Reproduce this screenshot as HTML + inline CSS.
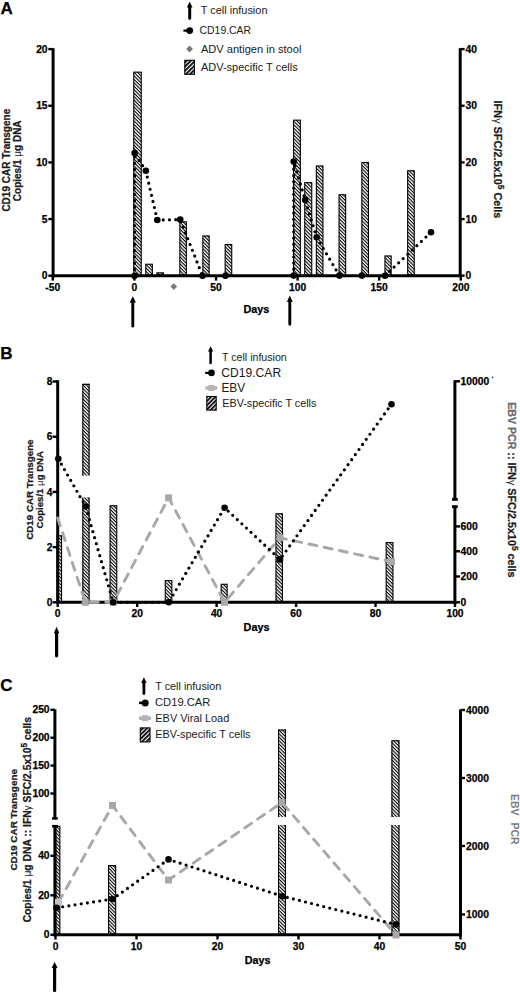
<!DOCTYPE html>
<html><head><meta charset="utf-8"><title>Figure</title><style>
html,body{margin:0;padding:0;background:#fff;width:520px;height:994px;overflow:hidden;}
svg{display:block;}
text{font-family:"Liberation Sans",sans-serif;}
</style></head><body>
<svg width="520" height="994" viewBox="0 0 520 994">
<defs>
<pattern id="hb" patternUnits="userSpaceOnUse" width="2.45" height="2.45" patternTransform="rotate(45)"><rect width="2.45" height="2.45" fill="#fff"/><rect width="2.45" height="1.08" fill="#000"/></pattern>
<pattern id="hl" patternUnits="userSpaceOnUse" width="3" height="3" patternTransform="rotate(-45)"><rect width="3" height="3" fill="#fff"/><rect width="3" height="1.8" fill="#000"/></pattern>
</defs>
<rect width="520" height="994" fill="#fff"/>
<text x="0.6" y="14.1" font-size="17" font-weight="bold" stroke="#000" stroke-width="0.25" text-anchor="start" fill="#000" >A</text>
<path d="M189.7 1.6 L192.5 7.4 L191.2 7.4 L191.2 18.3 A1.5 1.5 0 0 1 188.2 18.3 L188.2 7.4 L186.9 7.4 Z" fill="#000"/>
<text x="200.8" y="13.5" font-size="10.95" text-anchor="start" fill="#1a1a1a" >T cell infusion</text>
<line x1="183.4" y1="30.6" x2="189" y2="30.6" stroke="#000" stroke-width="2.2" />
<circle cx="189.7" cy="30.6" r="3.4" fill="#000"/>
<text x="199.6" y="33.7" font-size="10.4" text-anchor="start" fill="#1a1a1a" >CD19.CAR</text>
<path d="M189.6 45.6 L193 49 L189.6 52.4 L186.2 49 Z" fill="#7c7c7c"/>
<text x="200.9" y="53.4" font-size="11.1" text-anchor="start" fill="#1a1a1a" >ADV antigen in stool</text>
<rect x="184.8" y="60.3" width="9.6" height="14" fill="url(#hl)" stroke="#000" stroke-width="1.1"/>
<text x="200.9" y="71.2" font-size="11" text-anchor="start" fill="#1a1a1a" >ADV-specific T cells</text>
<rect x="133.75" y="72.15" width="7.5" height="203" fill="url(#hb)" stroke="#000" stroke-width="1.1"/>
<rect x="145.75" y="264.25" width="6.6" height="10.9" fill="url(#hb)" stroke="#000" stroke-width="1.1"/>
<rect x="156.85" y="272.85" width="6.6" height="2.3" fill="url(#hb)" stroke="#000" stroke-width="1.1"/>
<rect x="179.85" y="221.85" width="6.5" height="53.3" fill="url(#hb)" stroke="#000" stroke-width="1.1"/>
<rect x="202.85" y="235.95" width="6.3" height="39.2" fill="url(#hb)" stroke="#000" stroke-width="1.1"/>
<rect x="225.15" y="244.55" width="6.6" height="30.6" fill="url(#hb)" stroke="#000" stroke-width="1.1"/>
<rect x="293.55" y="120.15" width="6.8" height="155" fill="url(#hb)" stroke="#000" stroke-width="1.1"/>
<rect x="304.75" y="182.65" width="7" height="92.5" fill="url(#hb)" stroke="#000" stroke-width="1.1"/>
<rect x="316.35" y="165.95" width="6.6" height="109.2" fill="url(#hb)" stroke="#000" stroke-width="1.1"/>
<rect x="339.05" y="194.75" width="6.6" height="80.4" fill="url(#hb)" stroke="#000" stroke-width="1.1"/>
<rect x="361.85" y="162.45" width="6.6" height="112.7" fill="url(#hb)" stroke="#000" stroke-width="1.1"/>
<rect x="384.95" y="255.95" width="6.2" height="19.2" fill="url(#hb)" stroke="#000" stroke-width="1.1"/>
<rect x="407.65" y="170.75" width="6.6" height="104.4" fill="url(#hb)" stroke="#000" stroke-width="1.1"/>
<path d="M134.5 275.7 L134.6 153.1 L145.8 170.8 L157.3 220 L180.2 219.6 L202.5 275.8" fill="none" stroke="#000" stroke-width="3.2" stroke-dasharray="0 6.25" stroke-linecap="round"/>
<path d="M293.7 275.6 L293.7 161.5 L305.2 200 L316.7 237.3 L339.4 275.6" fill="none" stroke="#000" stroke-width="3.2" stroke-dasharray="0 6.25" stroke-linecap="round"/>
<path d="M385 275.7 L431 232.3" fill="none" stroke="#000" stroke-width="3.2" stroke-dasharray="0 6.25" stroke-linecap="round"/>
<line x1="53.1" y1="48.2" x2="53.1" y2="277.2" stroke="#000" stroke-width="3" />
<line x1="460.2" y1="48.2" x2="460.2" y2="277.2" stroke="#000" stroke-width="3" />
<line x1="51.6" y1="275.7" x2="461.7" y2="275.7" stroke="#000" stroke-width="3" />
<line x1="48.3" y1="275.7" x2="53.1" y2="275.7" stroke="#000" stroke-width="2.4" />
<text x="47.6" y="279.4" font-size="10.3" font-weight="bold" stroke="#000" stroke-width="0.25" text-anchor="end" fill="#000" >0</text>
<line x1="48.3" y1="219.05" x2="53.1" y2="219.05" stroke="#000" stroke-width="2.4" />
<text x="47.6" y="222.75" font-size="10.3" font-weight="bold" stroke="#000" stroke-width="0.25" text-anchor="end" fill="#000" >5</text>
<line x1="48.3" y1="162.4" x2="53.1" y2="162.4" stroke="#000" stroke-width="2.4" />
<text x="47.6" y="166.1" font-size="10.3" font-weight="bold" stroke="#000" stroke-width="0.25" text-anchor="end" fill="#000" >10</text>
<line x1="48.3" y1="105.75" x2="53.1" y2="105.75" stroke="#000" stroke-width="2.4" />
<text x="47.6" y="109.45" font-size="10.3" font-weight="bold" stroke="#000" stroke-width="0.25" text-anchor="end" fill="#000" >15</text>
<line x1="48.3" y1="49.1" x2="53.1" y2="49.1" stroke="#000" stroke-width="2.4" />
<text x="47.6" y="52.8" font-size="10.3" font-weight="bold" stroke="#000" stroke-width="0.25" text-anchor="end" fill="#000" >20</text>
<line x1="460.2" y1="275.7" x2="464.6" y2="275.7" stroke="#000" stroke-width="2.4" />
<text x="465.6" y="279.4" font-size="10.3" font-weight="bold" stroke="#000" stroke-width="0.25" text-anchor="start" fill="#000" >0</text>
<line x1="460.2" y1="219.05" x2="464.6" y2="219.05" stroke="#000" stroke-width="2.4" />
<text x="465.6" y="222.75" font-size="10.3" font-weight="bold" stroke="#000" stroke-width="0.25" text-anchor="start" fill="#000" >10</text>
<line x1="460.2" y1="162.4" x2="464.6" y2="162.4" stroke="#000" stroke-width="2.4" />
<text x="465.6" y="166.1" font-size="10.3" font-weight="bold" stroke="#000" stroke-width="0.25" text-anchor="start" fill="#000" >20</text>
<line x1="460.2" y1="105.75" x2="464.6" y2="105.75" stroke="#000" stroke-width="2.4" />
<text x="465.6" y="109.45" font-size="10.3" font-weight="bold" stroke="#000" stroke-width="0.25" text-anchor="start" fill="#000" >30</text>
<line x1="460.2" y1="49.1" x2="464.6" y2="49.1" stroke="#000" stroke-width="2.4" />
<text x="465.6" y="52.8" font-size="10.3" font-weight="bold" stroke="#000" stroke-width="0.25" text-anchor="start" fill="#000" >40</text>
<line x1="52.8" y1="275.7" x2="52.8" y2="280.6" stroke="#000" stroke-width="2.4" />
<text x="52.8" y="290.9" font-size="10.3" font-weight="bold" stroke="#000" stroke-width="0.25" text-anchor="middle" fill="#000" >-50</text>
<line x1="134.4" y1="275.7" x2="134.4" y2="280.6" stroke="#000" stroke-width="2.4" />
<text x="134.4" y="290.9" font-size="10.3" font-weight="bold" stroke="#000" stroke-width="0.25" text-anchor="middle" fill="#000" >0</text>
<line x1="216" y1="275.7" x2="216" y2="280.6" stroke="#000" stroke-width="2.4" />
<text x="216" y="290.9" font-size="10.3" font-weight="bold" stroke="#000" stroke-width="0.25" text-anchor="middle" fill="#000" >50</text>
<line x1="297.6" y1="275.7" x2="297.6" y2="280.6" stroke="#000" stroke-width="2.4" />
<text x="297.6" y="290.9" font-size="10.3" font-weight="bold" stroke="#000" stroke-width="0.25" text-anchor="middle" fill="#000" >100</text>
<line x1="379.2" y1="275.7" x2="379.2" y2="280.6" stroke="#000" stroke-width="2.4" />
<text x="379.2" y="290.9" font-size="10.3" font-weight="bold" stroke="#000" stroke-width="0.25" text-anchor="middle" fill="#000" >150</text>
<line x1="460.8" y1="275.7" x2="460.8" y2="280.6" stroke="#000" stroke-width="2.4" />
<text x="460.8" y="290.9" font-size="10.3" font-weight="bold" stroke="#000" stroke-width="0.25" text-anchor="middle" fill="#000" >200</text>
<circle cx="134.5" cy="275.7" r="3.3" fill="#000"/>
<circle cx="134.6" cy="153.1" r="3.3" fill="#000"/>
<circle cx="145.8" cy="170.8" r="3.3" fill="#000"/>
<circle cx="157.3" cy="220" r="3.3" fill="#000"/>
<circle cx="180.2" cy="219.6" r="3.3" fill="#000"/>
<circle cx="202.5" cy="275.8" r="3.3" fill="#000"/>
<circle cx="225.4" cy="275.8" r="3.3" fill="#000"/>
<circle cx="293.7" cy="275.6" r="3.3" fill="#000"/>
<circle cx="293.7" cy="161.5" r="3.3" fill="#000"/>
<circle cx="305.2" cy="200" r="3.3" fill="#000"/>
<circle cx="316.7" cy="237.3" r="3.3" fill="#000"/>
<circle cx="339.4" cy="275.6" r="3.3" fill="#000"/>
<circle cx="361.9" cy="275.6" r="3.3" fill="#000"/>
<circle cx="385" cy="275.7" r="3.3" fill="#000"/>
<circle cx="431" cy="232.3" r="3.3" fill="#000"/>
<path d="M173.8 283.2 L177.2 286.6 L173.8 290 L170.4 286.6 Z" fill="#7c7c7c"/>
<text x="243.5" y="312.7" font-size="10.8" font-weight="bold" stroke="#000" stroke-width="0.25" text-anchor="start" fill="#000" >Days</text>
<path d="M132.8 296.2 L135.9 302.6 L134.25 302.6 L134.25 326.15 A1.45 1.45 0 0 1 131.35 326.15 L131.35 302.6 L129.7 302.6 Z" fill="#000"/>
<path d="M289.8 295.4 L292.7 301.9 L291.25 301.9 L291.25 324.35 A1.45 1.45 0 0 1 288.35 324.35 L288.35 301.9 L286.9 301.9 Z" fill="#000"/>
<text transform="translate(9.5 160.2) rotate(-90)" x="0" y="0" font-size="10" font-weight="bold" stroke="#1a1a1a" stroke-width="0.25" text-anchor="middle" fill="#1a1a1a">CD19 CAR Transgene</text>
<text transform="translate(20.8 160.8) rotate(-90)" x="0" y="0" font-size="10" font-weight="bold" stroke="#1a1a1a" stroke-width="0.25" text-anchor="middle" fill="#1a1a1a">Copies/1 <tspan font-weight="normal" stroke="none">μ</tspan>g DNA</text>
<text transform="translate(494.4 159.5) rotate(90)" x="0" y="0" font-size="10.9" font-weight="bold" stroke="#1a1a1a" stroke-width="0.25" text-anchor="middle" fill="#1a1a1a">IFN<tspan font-weight="normal" stroke="none">γ</tspan> SFC/2.5x10<tspan dy="-4" font-size="8.3">5</tspan><tspan dy="4"> Cells</tspan></text>
<text x="0.2" y="358.9" font-size="17" font-weight="bold" stroke="#000" stroke-width="0.25" text-anchor="start" fill="#000" >B</text>
<path d="M210.6 346.3 L213.2 351.5 L211.85 351.5 L211.85 362.95 A1.25 1.25 0 0 1 209.35 362.95 L209.35 351.5 L208 351.5 Z" fill="#000"/>
<text x="222.1" y="361.4" font-size="10.6" text-anchor="start" fill="#1a1a1a" >T cell infusion</text>
<line x1="205.2" y1="372.9" x2="211" y2="372.9" stroke="#000" stroke-width="2.2" />
<circle cx="211.5" cy="372.9" r="3.3" fill="#000"/>
<text x="221.3" y="377" font-size="12.1" text-anchor="start" fill="#1a1a1a" >CD19.CAR</text>
<line x1="205.5" y1="388" x2="217.3" y2="388" stroke="#b4b4b4" stroke-width="3.6" />
<rect x="208.4" y="385" width="6" height="6" fill="#b4b4b4" />
<text x="221.4" y="392" font-size="11.9" text-anchor="start" fill="#1a1a1a" >EBV</text>
<rect x="206.8" y="396.5" width="9.4" height="13.6" fill="url(#hl)" stroke="#000" stroke-width="1.1"/>
<text x="222.3" y="407.2" font-size="10.75" text-anchor="start" fill="#1a1a1a" >EBV-specific T cells</text>
<rect x="82.3" y="497.4" width="7.3" height="104.9" fill="url(#hb)"/>
<path d="M82.85 601.75 L82.85 497.4 M89.05 497.4 L89.05 601.75 L82.85 601.75" fill="none" stroke="#000" stroke-width="1.1"/>
<rect x="57.15" y="535.75" width="4.4" height="66" fill="url(#hb)" stroke="#000" stroke-width="1.1"/>
<rect x="110.05" y="505.75" width="6.7" height="96" fill="url(#hb)" stroke="#000" stroke-width="1.1"/>
<rect x="165.25" y="580.55" width="6.6" height="21.2" fill="url(#hb)" stroke="#000" stroke-width="1.1"/>
<rect x="221.15" y="584.25" width="6" height="17.5" fill="url(#hb)" stroke="#000" stroke-width="1.1"/>
<rect x="275.95" y="513.75" width="6.5" height="88" fill="url(#hb)" stroke="#000" stroke-width="1.1"/>
<rect x="386.15" y="542.55" width="6.8" height="59.2" fill="url(#hb)" stroke="#000" stroke-width="1.1"/>
<rect x="82.3" y="383.8" width="7.3" height="91.8" fill="url(#hb)"/>
<path d="M82.85 475.6 L82.85 384.35 L89.05 384.35 L89.05 475.6" fill="none" stroke="#000" stroke-width="1.1"/>
<line x1="57.7" y1="380.3" x2="57.7" y2="603.8" stroke="#000" stroke-width="3" />
<line x1="56.2" y1="602.3" x2="456.4" y2="602.3" stroke="#000" stroke-width="3" />
<line x1="52.6" y1="602.3" x2="57.7" y2="602.3" stroke="#000" stroke-width="2.4" />
<text x="52.4" y="606" font-size="10.2" font-weight="bold" stroke="#000" stroke-width="0.25" text-anchor="end" fill="#000" >0</text>
<line x1="52.6" y1="547.1" x2="57.7" y2="547.1" stroke="#000" stroke-width="2.4" />
<text x="52.4" y="550.8" font-size="10.2" font-weight="bold" stroke="#000" stroke-width="0.25" text-anchor="end" fill="#000" >2</text>
<line x1="52.6" y1="491.9" x2="57.7" y2="491.9" stroke="#000" stroke-width="2.4" />
<text x="52.4" y="495.6" font-size="10.2" font-weight="bold" stroke="#000" stroke-width="0.25" text-anchor="end" fill="#000" >4</text>
<line x1="52.6" y1="436.7" x2="57.7" y2="436.7" stroke="#000" stroke-width="2.4" />
<text x="52.4" y="440.4" font-size="10.2" font-weight="bold" stroke="#000" stroke-width="0.25" text-anchor="end" fill="#000" >6</text>
<line x1="52.6" y1="381.5" x2="57.7" y2="381.5" stroke="#000" stroke-width="2.4" />
<text x="52.4" y="385.2" font-size="10.2" font-weight="bold" stroke="#000" stroke-width="0.25" text-anchor="end" fill="#000" >8</text>
<line x1="57.7" y1="602.3" x2="57.7" y2="607" stroke="#000" stroke-width="2.4" />
<text x="57.7" y="616.9" font-size="10.3" font-weight="bold" stroke="#000" stroke-width="0.25" text-anchor="middle" fill="#000" >0</text>
<line x1="137.16" y1="602.3" x2="137.16" y2="607" stroke="#000" stroke-width="2.4" />
<text x="137.16" y="616.9" font-size="10.3" font-weight="bold" stroke="#000" stroke-width="0.25" text-anchor="middle" fill="#000" >20</text>
<line x1="216.62" y1="602.3" x2="216.62" y2="607" stroke="#000" stroke-width="2.4" />
<text x="216.62" y="616.9" font-size="10.3" font-weight="bold" stroke="#000" stroke-width="0.25" text-anchor="middle" fill="#000" >40</text>
<line x1="296.08" y1="602.3" x2="296.08" y2="607" stroke="#000" stroke-width="2.4" />
<text x="296.08" y="616.9" font-size="10.3" font-weight="bold" stroke="#000" stroke-width="0.25" text-anchor="middle" fill="#000" >60</text>
<line x1="375.54" y1="602.3" x2="375.54" y2="607" stroke="#000" stroke-width="2.4" />
<text x="375.54" y="616.9" font-size="10.3" font-weight="bold" stroke="#000" stroke-width="0.25" text-anchor="middle" fill="#000" >80</text>
<line x1="455" y1="602.3" x2="455" y2="607" stroke="#000" stroke-width="2.4" />
<text x="455" y="616.9" font-size="10.3" font-weight="bold" stroke="#000" stroke-width="0.25" text-anchor="middle" fill="#000" >100</text>
<line x1="454.9" y1="380.3" x2="454.9" y2="500" stroke="#000" stroke-width="3" />
<rect x="452" y="497.9" width="5.8" height="2.9" fill="#000" />
<line x1="454.9" y1="506" x2="454.9" y2="603.8" stroke="#000" stroke-width="3" />
<rect x="452" y="505.2" width="5.8" height="2.9" fill="#000" />
<line x1="454.9" y1="381.3" x2="460" y2="381.3" stroke="#000" stroke-width="2.4" />
<text x="460.6" y="384.9" font-size="10.3" font-weight="bold" stroke="#000" stroke-width="0.25" text-anchor="start" fill="#000" >10000</text>
<line x1="454.9" y1="526.4" x2="460" y2="526.4" stroke="#000" stroke-width="2.4" />
<text x="460.6" y="530" font-size="10.3" font-weight="bold" stroke="#000" stroke-width="0.25" text-anchor="start" fill="#000" >600</text>
<line x1="454.9" y1="551.3" x2="460" y2="551.3" stroke="#000" stroke-width="2.4" />
<text x="460.6" y="554.9" font-size="10.3" font-weight="bold" stroke="#000" stroke-width="0.25" text-anchor="start" fill="#000" >400</text>
<line x1="454.9" y1="576.5" x2="460" y2="576.5" stroke="#000" stroke-width="2.4" />
<text x="460.6" y="580.1" font-size="10.3" font-weight="bold" stroke="#000" stroke-width="0.25" text-anchor="start" fill="#000" >200</text>
<line x1="454.9" y1="602.3" x2="460" y2="602.3" stroke="#000" stroke-width="2.4" />
<text x="460.6" y="605.9" font-size="10.3" font-weight="bold" stroke="#000" stroke-width="0.25" text-anchor="start" fill="#000" >0</text>
<circle cx="492.6" cy="377.4" r="0.8" fill="#333"/>
<path d="M57.7 518 L85.3 602.3 L113.2 602.3 L168.6 497.8 L224.6 602.3 L280 537.8 L391.5 561.7" fill="none" stroke="#a8a8a8" stroke-width="2.9" stroke-dasharray="8.1 7.5" stroke-linecap="round" stroke-linejoin="round"/>
<path d="M58.3 458.7 L85.6 506.5 L113.2 602.3 L168.7 602.3 L224.6 507.7 L280 559.4 L391.5 404.2" fill="none" stroke="#000" stroke-width="3.2" stroke-dasharray="0 6.25" stroke-linecap="round"/>
<rect x="81.8" y="598.8" width="7" height="7" fill="#a8a8a8" />
<rect x="109.7" y="598.8" width="7" height="7" fill="#a8a8a8" />
<rect x="165.1" y="494.3" width="7" height="7" fill="#a8a8a8" />
<rect x="221.1" y="598.8" width="7" height="7" fill="#a8a8a8" />
<rect x="276.5" y="534.3" width="7" height="7" fill="#a8a8a8" />
<rect x="388" y="558.2" width="7" height="7" fill="#a8a8a8" />
<circle cx="58.3" cy="458.7" r="3.3" fill="#000"/>
<circle cx="85.6" cy="506.5" r="3.3" fill="#000"/>
<circle cx="113.2" cy="602.3" r="3.3" fill="#000"/>
<circle cx="168.7" cy="602.3" r="3.3" fill="#000"/>
<circle cx="224.6" cy="507.7" r="3.3" fill="#000"/>
<circle cx="280" cy="559.4" r="3.3" fill="#000"/>
<circle cx="391.5" cy="404.2" r="3.3" fill="#000"/>
<text x="243.6" y="630.9" font-size="10.8" font-weight="bold" stroke="#000" stroke-width="0.25" text-anchor="start" fill="#000" >Days</text>
<path d="M56.6 626.8 L59.4 633.3 L58.2 633.3 L58.2 655.8 A1.6 1.6 0 0 1 55 655.8 L55 633.3 L53.8 633.3 Z" fill="#000"/>
<text transform="translate(32.5 489.6) rotate(-90)" x="0" y="0" font-size="9.75" font-weight="bold" stroke="#1a1a1a" stroke-width="0.25" text-anchor="middle" fill="#1a1a1a">CD19 CAR Transgene</text>
<text transform="translate(42.9 489.8) rotate(-90)" x="0" y="0" font-size="9.6" font-weight="bold" stroke="#1a1a1a" stroke-width="0.25" text-anchor="middle" fill="#1a1a1a">Copies/1 <tspan font-weight="normal" stroke="none">μ</tspan>g DNA</text>
<text transform="translate(507.8 402.2) rotate(90)" x="0" y="0" font-size="10.8" font-weight="bold" stroke="#1a1a1a" stroke-width="0.25" text-anchor="start" fill="#1a1a1a"><tspan fill="#6a6a6a" stroke="#6a6a6a" font-size="10.6">EBV PCR</tspan> :: IFN<tspan font-weight="normal" stroke="none">γ</tspan> SFC/2.5x10<tspan dy="-4" font-size="8.3">5</tspan><tspan dy="4"> cells</tspan></text>
<text x="0.3" y="690.7" font-size="17" font-weight="bold" stroke="#000" stroke-width="0.25" text-anchor="start" fill="#000" >C</text>
<path d="M143.9 677.2 L146.6 683 L145.3 683 L145.3 693.6 A1.4 1.4 0 0 1 142.5 693.6 L142.5 683 L141.2 683 Z" fill="#000"/>
<text x="155.2" y="689.5" font-size="10.85" text-anchor="start" fill="#1a1a1a" >T cell infusion</text>
<line x1="139" y1="702.9" x2="145" y2="702.9" stroke="#000" stroke-width="2.5" />
<circle cx="145.2" cy="702.9" r="3.5" fill="#000"/>
<text x="155" y="706.4" font-size="11.2" text-anchor="start" fill="#1a1a1a" >CD19.CAR</text>
<line x1="139" y1="718.2" x2="151" y2="718.2" stroke="#b4b4b4" stroke-width="3.6" />
<rect x="142" y="715.2" width="6" height="6" fill="#b4b4b4" />
<text x="155.3" y="721.6" font-size="10.95" text-anchor="start" fill="#1a1a1a" >EBV Viral Load</text>
<rect x="140.3" y="727.9" width="9.7" height="14" fill="url(#hl)" stroke="#000" stroke-width="1.1"/>
<text x="155.3" y="738.3" font-size="10.9" text-anchor="start" fill="#1a1a1a" >EBV-specific T cells</text>
<rect x="55.75" y="826.25" width="4.1" height="108" fill="url(#hb)" stroke="#000" stroke-width="1.1"/>
<rect x="108.55" y="865.55" width="7.1" height="68.7" fill="url(#hb)" stroke="#000" stroke-width="1.1"/>
<rect x="278" y="729.4" width="8" height="87.6" fill="url(#hb)"/>
<path d="M278.55 817 L278.55 729.95 L285.45 729.95 L285.45 817" fill="none" stroke="#000" stroke-width="1.1"/>
<rect x="278" y="825" width="8" height="109.8" fill="url(#hb)"/>
<path d="M278.55 934.25 L278.55 825 M285.45 825 L285.45 934.25 L278.55 934.25" fill="none" stroke="#000" stroke-width="1.1"/>
<rect x="391.4" y="740.2" width="8.1" height="76.8" fill="url(#hb)"/>
<path d="M391.95 817 L391.95 740.75 L398.95 740.75 L398.95 817" fill="none" stroke="#000" stroke-width="1.1"/>
<rect x="391.4" y="825" width="8.1" height="109.8" fill="url(#hb)"/>
<path d="M391.95 934.25 L391.95 825 M398.95 825 L398.95 934.25 L391.95 934.25" fill="none" stroke="#000" stroke-width="1.1"/>
<line x1="54.9" y1="709.4" x2="54.9" y2="818" stroke="#000" stroke-width="3" />
<rect x="52.1" y="817.1" width="5.7" height="2.6" fill="#000" />
<line x1="54.9" y1="826" x2="54.9" y2="936.3" stroke="#000" stroke-width="3" />
<rect x="52.1" y="824.9" width="5.7" height="2.7" fill="#000" />
<line x1="53.5" y1="934.8" x2="462" y2="934.8" stroke="#000" stroke-width="3" />
<line x1="50.4" y1="709.8" x2="55" y2="709.8" stroke="#000" stroke-width="2.4" />
<text x="49.6" y="713.4" font-size="10.3" font-weight="bold" stroke="#000" stroke-width="0.25" text-anchor="end" fill="#000" >250</text>
<line x1="50.4" y1="737.7" x2="55" y2="737.7" stroke="#000" stroke-width="2.4" />
<text x="49.6" y="741.3" font-size="10.3" font-weight="bold" stroke="#000" stroke-width="0.25" text-anchor="end" fill="#000" >200</text>
<line x1="50.4" y1="765.6" x2="55" y2="765.6" stroke="#000" stroke-width="2.4" />
<text x="49.6" y="769.2" font-size="10.3" font-weight="bold" stroke="#000" stroke-width="0.25" text-anchor="end" fill="#000" >150</text>
<line x1="50.4" y1="793.5" x2="55" y2="793.5" stroke="#000" stroke-width="2.4" />
<text x="49.6" y="797.1" font-size="10.3" font-weight="bold" stroke="#000" stroke-width="0.25" text-anchor="end" fill="#000" >100</text>
<line x1="50.4" y1="855.8" x2="55" y2="855.8" stroke="#000" stroke-width="2.4" />
<text x="49.6" y="859.4" font-size="10.3" font-weight="bold" stroke="#000" stroke-width="0.25" text-anchor="end" fill="#000" >40</text>
<line x1="50.4" y1="895.3" x2="55" y2="895.3" stroke="#000" stroke-width="2.4" />
<text x="49.6" y="898.9" font-size="10.3" font-weight="bold" stroke="#000" stroke-width="0.25" text-anchor="end" fill="#000" >20</text>
<line x1="50.4" y1="934.8" x2="55" y2="934.8" stroke="#000" stroke-width="2.4" />
<text x="49.6" y="938.4" font-size="10.3" font-weight="bold" stroke="#000" stroke-width="0.25" text-anchor="end" fill="#000" >0</text>
<line x1="55.5" y1="934.8" x2="55.5" y2="939.5" stroke="#000" stroke-width="2.4" />
<text x="55.5" y="949.6" font-size="10.3" font-weight="bold" stroke="#000" stroke-width="0.25" text-anchor="middle" fill="#000" >0</text>
<line x1="136.5" y1="934.8" x2="136.5" y2="939.5" stroke="#000" stroke-width="2.4" />
<text x="136.5" y="949.6" font-size="10.3" font-weight="bold" stroke="#000" stroke-width="0.25" text-anchor="middle" fill="#000" >10</text>
<line x1="217.5" y1="934.8" x2="217.5" y2="939.5" stroke="#000" stroke-width="2.4" />
<text x="217.5" y="949.6" font-size="10.3" font-weight="bold" stroke="#000" stroke-width="0.25" text-anchor="middle" fill="#000" >20</text>
<line x1="298.5" y1="934.8" x2="298.5" y2="939.5" stroke="#000" stroke-width="2.4" />
<text x="298.5" y="949.6" font-size="10.3" font-weight="bold" stroke="#000" stroke-width="0.25" text-anchor="middle" fill="#000" >30</text>
<line x1="379.5" y1="934.8" x2="379.5" y2="939.5" stroke="#000" stroke-width="2.4" />
<text x="379.5" y="949.6" font-size="10.3" font-weight="bold" stroke="#000" stroke-width="0.25" text-anchor="middle" fill="#000" >40</text>
<line x1="460.5" y1="934.8" x2="460.5" y2="939.5" stroke="#000" stroke-width="2.4" />
<text x="460.5" y="949.6" font-size="10.3" font-weight="bold" stroke="#000" stroke-width="0.25" text-anchor="middle" fill="#000" >50</text>
<line x1="460.5" y1="709.4" x2="460.5" y2="936.3" stroke="#000" stroke-width="3" />
<line x1="460.5" y1="710" x2="465" y2="710" stroke="#000" stroke-width="2.4" />
<text x="466" y="713.6" font-size="10.3" font-weight="bold" stroke="#000" stroke-width="0.25" text-anchor="start" fill="#000" >4000</text>
<line x1="460.5" y1="778" x2="465" y2="778" stroke="#000" stroke-width="2.4" />
<text x="466" y="781.6" font-size="10.3" font-weight="bold" stroke="#000" stroke-width="0.25" text-anchor="start" fill="#000" >3000</text>
<line x1="460.5" y1="846" x2="465" y2="846" stroke="#000" stroke-width="2.4" />
<text x="466" y="849.6" font-size="10.3" font-weight="bold" stroke="#000" stroke-width="0.25" text-anchor="start" fill="#000" >2000</text>
<line x1="460.5" y1="914.5" x2="465" y2="914.5" stroke="#000" stroke-width="2.4" />
<text x="466" y="918.1" font-size="10.3" font-weight="bold" stroke="#000" stroke-width="0.25" text-anchor="start" fill="#000" >1000</text>
<path d="M58.5 902.3 L112.5 805.5 L168.5 880 L282 802.5 L396 935" fill="none" stroke="#a8a8a8" stroke-width="2.9" stroke-dasharray="8.1 7.5" stroke-linecap="round" stroke-linejoin="round"/>
<path d="M56.5 907.7 L112.5 899 L168.5 859.4 L282.3 896.2 L396 924.6" fill="none" stroke="#000" stroke-width="3.2" stroke-dasharray="0 6.25" stroke-linecap="round"/>
<rect x="55" y="898.8" width="7" height="7" fill="#c4c4c4" />
<rect x="109" y="802" width="7" height="7" fill="#a8a8a8" />
<rect x="165" y="876.5" width="7" height="7" fill="#a8a8a8" />
<rect x="278.5" y="799" width="7" height="7" fill="#a8a8a8" />
<rect x="392.5" y="931.5" width="7" height="7" fill="#a8a8a8" />
<circle cx="56.5" cy="907.7" r="3.3" fill="#000"/>
<circle cx="112.5" cy="899" r="3.3" fill="#000"/>
<circle cx="168.5" cy="859.4" r="3.3" fill="#000"/>
<circle cx="282.3" cy="896.2" r="3.3" fill="#000"/>
<circle cx="396" cy="924.6" r="3.3" fill="#000"/>
<text x="244.8" y="963.6" font-size="10.8" font-weight="bold" stroke="#000" stroke-width="0.25" text-anchor="start" fill="#000" >Days</text>
<path d="M54.6 962.1 L57.6 967.9 L56.2 967.9 L56.2 990.4 A1.6 1.6 0 0 1 53 990.4 L53 967.9 L51.6 967.9 Z" fill="#000"/>
<text transform="translate(17.3 819.85) rotate(-90)" x="0" y="0" font-size="9.9" font-weight="bold" stroke="#1a1a1a" stroke-width="0.25" text-anchor="middle" fill="#1a1a1a">CD19 CAR Transgene</text>
<text transform="translate(30.6 819.7) rotate(-90)" x="0" y="0" font-size="10.3" font-weight="bold" stroke="#1a1a1a" stroke-width="0.25" text-anchor="middle" fill="#1a1a1a">Copies/1 <tspan font-weight="normal" stroke="none">μ</tspan>g DNA :: IFN<tspan font-weight="normal" stroke="none">γ</tspan> SFC/2.5x10<tspan dy="-4" font-size="8.3">5</tspan><tspan dy="4"> cells</tspan></text>
<text transform="translate(511.3 793.9) rotate(90)" x="0" y="0" font-size="10.5" font-weight="bold" stroke="#7c7c7c" stroke-width="0" text-anchor="start" fill="#7c7c7c">EBV</text>
<text transform="translate(511.3 822.4) rotate(90)" x="0" y="0" font-size="10.5" font-weight="bold" stroke="#7c7c7c" stroke-width="0" text-anchor="start" fill="#7c7c7c">PCR</text>
</svg>
</body></html>
